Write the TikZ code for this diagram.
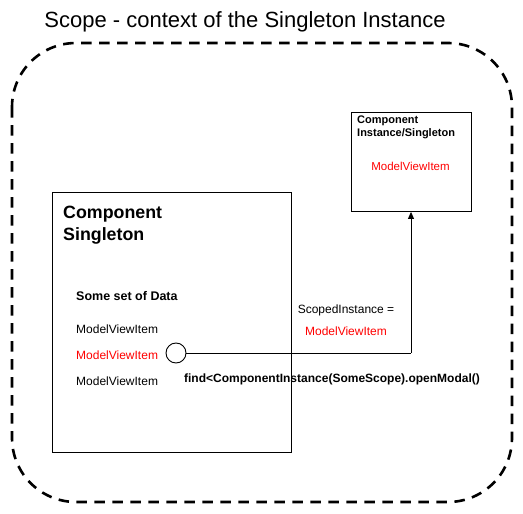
\documentclass[tikz,border=0pt]{standalone}
\usepackage{fontspec}
\setmainfont{Liberation Sans}
\usetikzlibrary{arrows.meta}
\definecolor{redtxt}{RGB}{255,0,0}
\begin{document}
\begin{tikzpicture}[x=1pt,y=-1pt,
  box/.style={draw,line width=0.9pt,inner sep=0pt},
  txt/.style={inner sep=0pt,font=\fontsize{12}{14}\selectfont},
  redt/.style={txt,text=redtxt},
  boldt/.style={txt,font=\fontsize{12}{14}\selectfont\bfseries},
  conn/.style={line width=0.9pt}]
\useasboundingbox (0,0) rectangle (523,514);
\node[inner sep=0pt,font=\fontsize{22}{26}\selectfont] (title) at (245,22) {Scope - context of the Singleton Instance};
\draw[line width=2.6pt,dash pattern=on 10.5pt off 7.5pt,rounded corners=64pt] (12,43) rectangle (512,502);
\node[box,minimum width=239pt,minimum height=260pt,anchor=north west] (cs) at (52,192) {};
\node[box,minimum width=120pt,minimum height=99pt,anchor=north west] (ci) at (351,112) {};
\node[inner sep=0pt,anchor=north west,align=left,font=\fontsize{17.8}{21.5}\selectfont\bfseries] (cst) at (63,206) {Component\\Singleton};
\node[inner sep=0pt,anchor=north west,align=left,font=\fontsize{11}{12.5}\selectfont\bfseries] (cit) at (357,116) {Component\\Instance/Singleton};
\node[redt,font=\fontsize{11.5}{14}\selectfont] (cim) at (410.5,166) {ModelViewItem};
\node[boldt,anchor=west,font=\fontsize{12.5}{14}\selectfont\bfseries] (data) at (76,296) {Some set of Data};
\node[txt,anchor=west] (m1) at (76,329) {ModelViewItem};
\node[redt,anchor=west] (m2) at (76,355) {ModelViewItem};
\node[txt,anchor=west] (m3) at (76,381) {ModelViewItem};
\node[draw,circle,line width=0.9pt,minimum size=20pt,inner sep=0pt] (c) at (176,353) {};
\coordinate (bend) at (411,353);
\draw[conn] (c.east) -- (bend);
\draw[conn,-{Triangle[length=7pt,width=6pt]}] (bend) -- (ci.south -| bend);
\node[txt] (si) at (346,310) {ScopedInstance =};
\node[redt] (sm) at (346,331) {ModelViewItem};
\node[boldt] (find) at (332,379) {find<ComponentInstance(SomeScope).openModal()};
\end{tikzpicture}
\end{document}
